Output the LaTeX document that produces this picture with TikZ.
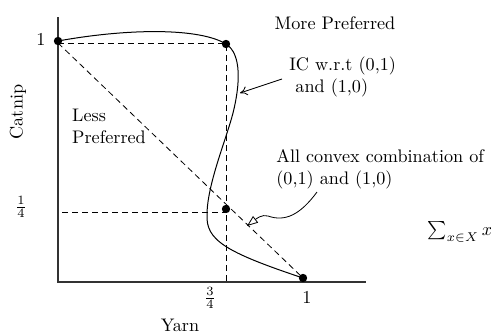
\documentclass[tikz,border=0pt]{standalone}
\usetikzlibrary{arrows.meta}
\begin{document}
\begin{tikzpicture}[x=0.55pt,y=-0.55pt,
  axis/.style={line width=0.6pt,draw=black!80},
  guide/.style={dashed,dash pattern=on 3.3pt off 2.2pt,line width=0.45pt},
  dot/.style={circle,fill=black,inner sep=0pt,minimum size=4.6pt},
  ic/.style={line width=0.55pt},
  lbl/.style={inner sep=0pt}]
\useasboundingbox (0,0) rectangle (491,332);
% axes
\coordinate (ytop) at (58,17);
\coordinate (O) at (58,282);
\coordinate (xend) at (366,282);
\draw[axis] (ytop) -- (O) -- (xend);
% reference points
\coordinate (c01) at (58,43);
\coordinate (c34) at (226,43);
\coordinate (c34b) at (226,282);
\coordinate (cq) at (226,212);
\coordinate (cql) at (62,212);
\coordinate (c10) at (303,278);
% dashed guides
\draw[guide] (c01) -- (c34) -- (c34b);
\draw[guide] (cql) -- (cq);
\draw[guide] (c01) -- (c10);
% dots
\node[dot] (p01) at (58,41) {};
\node[dot] (pa) at (226,44) {};
\node[dot] (pb) at (226,209) {};
\node[dot] (p10) at (303,278) {};
% indifference curve
\draw[ic] (p01.center) .. controls (130,28) and (200,28) .. (pa.center)
  .. controls (242,54) and (240,85) .. (233,113)
  .. controls (226,140) and (207,185) .. (207,215)
  .. controls (206,240) and (225,252) .. (p10.center);
% labels
\node[lbl] (one) at (41,39) {1};
\node[lbl,rotate=90] (catnip) at (18,112) {Catnip};
\node[lbl,align=left] (less) at (109,126) {Less\\Preferred};
\node[lbl] (quarter) at (21,207) {$\frac{1}{4}$};
\node[lbl] (threeq) at (210,298) {$\frac{3}{4}$};
\node[lbl] (onex) at (307,297) {1};
\node[lbl] (yarn) at (180,325) {Yarn};
\node[lbl] (more) at (335,23) {More Preferred};
\node[lbl,align=left,anchor=west] (iclbl) at (289,77) {IC w.r.t (0,1)\\~and (1,0)};
\node[lbl,align=left,anchor=west] (cvx) at (276,169) {All convex combination of\\(0,1) and (1,0)};
\node[lbl] (sum) at (460,232) {$\sum_{x\in X} x$};
% pointers
\coordinate (icstart) at (282,79);
\coordinate (icend) at (240,93);
\draw[line width=0.45pt,-{To[length=4pt,width=5pt]}] (icstart) -- (icend);
\coordinate (cvstart) at (317,192);
\coordinate (cvend) at (247,226);
\draw[line width=0.45pt,-{Triangle[open,length=6pt,width=4.5pt]}] (cvstart)
  .. controls (300,215) and (285,222) .. (268,216)
  .. controls (262,214) and (256,219) .. (cvend);
\end{tikzpicture}
\end{document}
